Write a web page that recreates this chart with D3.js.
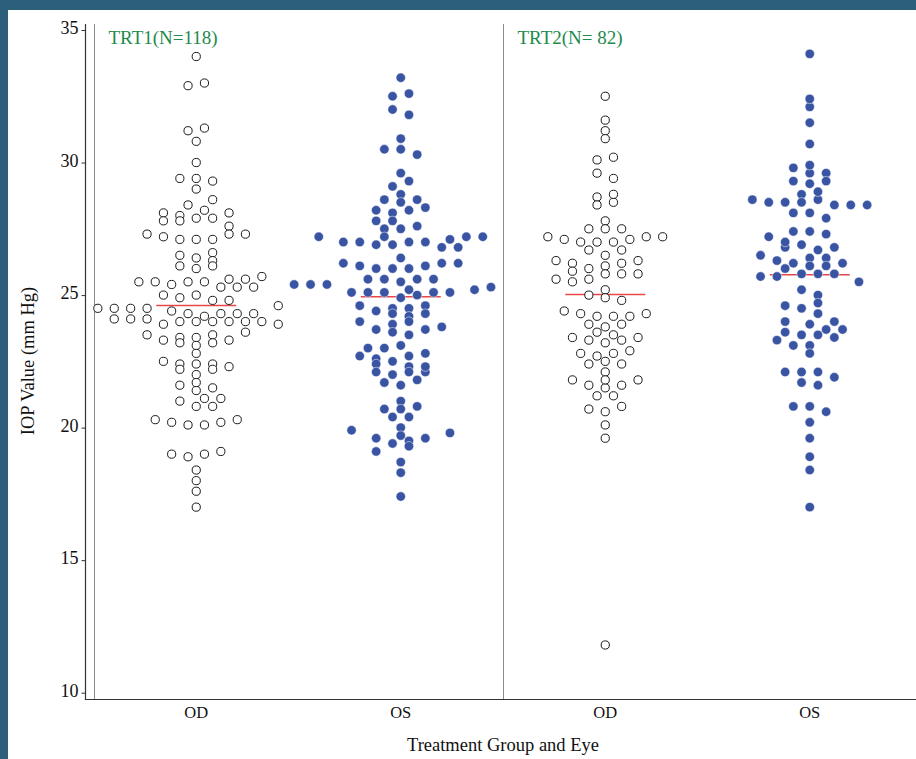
<!DOCTYPE html>
<html>
<head>
<meta charset="utf-8">
<script src="https://cdn.jsdelivr.net/npm/d3@7"></script>
<style>
  html, body { margin: 0; padding: 0; background: #fff; }
  svg { display: block; }
  text { font-family: "Liberation Serif", "Times New Roman", serif; }
</style>
</head>
<body>
<svg id="chart" width="916" height="759"></svg>
<script>
// ---- data: IOP (mm Hg) per treatment group and eye ----
const treatments = ["TRT1", "TRT2"];
const eyes = ["OD", "OS"];
const patientCounts = [118, 82];

const trt1OD = [
  34.0,
  32.9, 33.0,
  31.2, 31.3,
  30.8,
  30.0,
  29.4, 29.4, 29.3, 29.0,
  28.6, 28.4,
  28.1, 28.0, 27.9, 27.9, 28.1, 28.2,
  27.8, 27.8, 27.6,
  27.3, 27.2, 27.1, 27.1, 27.1, 27.3, 27.3,
  26.5, 26.4, 26.6, 26.3,
  26.1, 26.0, 26.1,
  25.6, 25.6, 25.7,
  25.5, 25.5, 25.4, 25.5, 25.5,
  25.3, 25.3, 25.3,
  25.0, 24.9, 25.0,
  24.8, 24.8,
  24.5, 24.5, 24.4, 24.5, 24.5, 24.6,
  24.3, 24.1, 24.1, 24.1, 24.2, 24.3, 24.3, 24.3,
  23.9, 24.0, 24.0, 24.0, 24.0, 24.0, 24.0, 23.9,
  23.5, 23.4, 23.4, 23.5, 23.6,
  23.3, 23.2, 23.1, 23.2, 23.3,
  22.8,
  22.5, 22.4, 22.4, 22.4,
  22.2, 22.0, 22.2, 22.3,
  21.6, 21.4, 21.5, 21.7,
  21.1, 21.0, 21.1,
  20.8, 20.8,
  20.3, 20.2, 20.1, 20.1, 20.2, 20.3,
  19.0, 18.9, 19.0, 19.1,
  18.4, 18.0, 17.6, 17.0
];

const trt1OS = [
  33.2,
  32.5, 32.6,
  32.0, 31.8,
  30.9,
  30.5, 30.5,
  30.3,
  29.6,
  29.1, 29.3,
  28.8,
  28.6, 28.5, 28.6,
  28.2, 28.1, 28.2, 28.3,
  27.8, 27.8,
  27.5, 27.5, 27.6,
  27.2, 27.2, 27.0, 27.0, 26.9, 26.9, 27.0, 27.0, 27.1, 27.2, 27.2,
  26.8, 26.8,
  26.4,
  26.2, 26.1, 26.0, 26.0, 26.0, 26.1, 26.2, 26.2,
  25.6, 25.6, 25.4, 25.4, 25.4, 25.5, 25.6, 25.6,
  25.2, 25.1, 25.1, 25.1, 24.9, 25.0, 25.1, 25.1, 25.2, 25.3,
  24.6, 24.5, 24.4, 24.5, 24.6,
  24.3, 24.2, 24.3,
  24.0, 23.9, 24.0,
  23.7, 23.6, 23.5, 23.7, 23.8,
  23.0, 23.0, 23.1,
  22.7, 22.6, 22.4, 22.5, 22.7, 22.8,
  22.3, 22.1, 22.0, 22.1, 22.1, 22.3,
  21.7, 21.6, 21.8,
  21.0,
  20.7, 20.7, 20.8,
  20.4, 20.4,
  19.9, 20.0,
  19.7, 19.6, 19.4, 19.5, 19.6, 19.8,
  19.1, 19.3,
  18.7, 18.3, 17.4
];

const trt2OD = [
  32.5, 31.6, 31.2, 30.9,
  30.1, 30.2,
  29.6, 29.4,
  28.7, 28.4, 28.5, 28.8,
  27.8,
  27.5, 27.5, 27.5,
  27.2, 27.1, 27.0, 27.0, 27.0, 27.1, 27.2, 27.2,
  26.7, 26.5, 26.7,
  26.3, 26.2, 25.9, 26.0, 26.1, 26.2, 26.3,
  25.8, 25.6, 25.5, 25.6, 25.8, 25.8,
  25.2,
  25.0, 24.9, 24.8,
  24.4,
  24.3, 24.2, 24.2, 24.2, 24.3,
  23.9, 23.8, 23.9,
  23.6, 23.5,
  23.4, 23.3, 23.2, 23.3, 23.4,
  22.8, 22.7, 22.8, 22.9,
  22.4, 22.5, 22.4,
  22.1,
  21.8, 21.6, 21.5, 21.6, 21.8, 21.8,
  21.2, 21.2,
  20.7, 20.6, 20.8,
  20.1, 19.6, 11.8
];

const trt2OS = [
  34.1,
  32.1, 32.4,
  31.5,
  30.7,
  29.8, 29.6, 29.6, 29.9,
  29.3, 29.2, 29.3,
  28.8, 28.6, 28.5, 28.5, 28.5, 28.6, 28.9,
  28.4, 28.4, 28.4,
  28.1, 28.1, 27.9,
  27.2, 27.4, 27.4, 27.3,
  26.8, 26.9, 27.0, 26.7, 26.8,
  26.5, 26.4, 26.4, 26.3,
  26.2, 26.1, 26.0, 26.1, 26.2,
  25.8, 25.7, 25.7, 25.8, 25.8,
  25.5, 25.2, 25.0,
  24.6, 24.5, 24.7,
  24.3,
  24.0, 24.0,
  23.9,
  23.7, 23.6, 23.5, 23.5, 23.7,
  23.3, 23.4,
  23.1, 23.1,
  22.8,
  22.1, 22.1, 22.1,
  21.9,
  21.7, 21.6,
  20.8, 20.8,
  20.6, 20.2, 19.6, 18.9, 18.4, 17.0
];

const yTicks = [10, 15, 20, 25, 30, 35];

// ---- build the four groups ----
const seriesByGroup = [[trt1OD, trt1OS], [trt2OD, trt2OS]];
const groups = [];
treatments.forEach((trt, t) => {
  eyes.forEach((eye, e) => {
    groups.push({ key: trt + " " + eye, trt, eye, values: seriesByGroup[t][e] });
  });
});

// ---- geometry ----
const W = 916, H = 759;
const plotTop = 24, plotBottom = 699.5, axisX = 85.5;
const svg = d3.select("#chart");

const y = d3.scaleLinear().domain([10, 35]).range([692.7, 30]);
const x = d3.scaleBand().domain(groups.map(g => g.key)).range([94, 912]).padding(0);
const step = 16.4;          // horizontal spacing between neighbouring markers (px)

// Beeswarm layout: values are grouped into rows of nearly equal value.
// Rows are laid out largest first, each centred on the category; slots
// that would collide with markers lying close to the row's mean value
// are skipped.
function beeswarm(values, rowSpan, clearance) {
  const n = values.length;
  const order = d3.range(n).sort((a, b) => values[a] - values[b] || a - b);
  const rows = [];
  order.forEach(i => {
    const last = rows[rows.length - 1];
    if (last && values[i] - values[last[0]] < rowSpan - 1e-9) last.push(i);
    else rows.push([i]);
  });
  const rowOrder = d3.range(rows.length).sort((a, b) => rows[b].length - rows[a].length || a - b);
  const placed = [];
  const slot = new Array(n);
  rowOrder.forEach(r => {
    const row = rows[r].slice().sort((a, b) => a - b);
    const mid = d3.mean(row, i => values[i]);
    const base = row.length % 2 ? 0 : 0.5;
    const free = [];
    for (let m = 0; free.length < row.length && m < 60; m++) {
      const c0 = m + base;
      const cands = c0 === 0 ? [0] : [-c0, c0];
      for (const c of cands) {
        if (free.length >= row.length) break;
        const blocked = placed.some(p => Math.abs(p.slot - c) < 0.999 &&
          Math.abs(p.v - mid) < clearance - 1e-9);
        if (!blocked) free.push(c);
      }
    }
    free.sort((a, b) => a - b);
    row.forEach((i, k) => { slot[i] = free[k]; });
    row.forEach(i => placed.push({ slot: slot[i], v: values[i] }));
  });
  return slot;
}

// ---- frame ----
svg.append("rect").attr("x", 0).attr("y", 0).attr("width", W).attr("height", H).attr("fill", "#2c5f7a");
svg.append("rect").attr("x", 8).attr("y", 10).attr("width", W - 8).attr("height", H - 10).attr("fill", "#ffffff");

// ---- panel separators ----
treatments.forEach(trt => {
  const x0 = x(trt + " OD");
  svg.append("line")
    .attr("x1", x0 + 0.5).attr("x2", x0 + 0.5)
    .attr("y1", plotTop).attr("y2", plotBottom)
    .attr("stroke", "#8c8c8c").attr("stroke-width", 1);
});

// ---- y axis ----
const yAxis = svg.append("g")
  .attr("transform", `translate(${axisX},0)`)
  .call(d3.axisLeft(y).tickValues(yTicks).tickSize(4).tickPadding(3).tickFormat(d3.format("d")));
yAxis.select(".domain").remove();
yAxis.selectAll(".tick line").attr("stroke", "#333");
yAxis.selectAll(".tick text")
  .attr("font-family", "Liberation Serif, serif")
  .attr("font-size", 18).attr("fill", "#111").attr("dy", "0.2em");
svg.append("line")
  .attr("x1", axisX).attr("x2", axisX).attr("y1", plotTop).attr("y2", plotBottom)
  .attr("stroke", "#333").attr("stroke-width", 1.2);

// ---- x axis ----
const xAxis = svg.append("g")
  .attr("transform", `translate(0,${plotBottom})`)
  .call(d3.axisBottom(x).tickSize(0).tickPadding(6.5).tickFormat(k => k.split(" ")[1]));
xAxis.select(".domain").remove();
xAxis.selectAll(".tick text")
  .attr("font-family", "Liberation Serif, serif")
  .attr("font-size", 16.5).attr("fill", "#111");
svg.append("line")
  .attr("x1", axisX - 0.6).attr("x2", W).attr("y1", plotBottom).attr("y2", plotBottom)
  .attr("stroke", "#333").attr("stroke-width", 1.2);

// ---- axis titles ----
svg.append("text")
  .attr("x", 503).attr("y", 751)
  .attr("text-anchor", "middle")
  .attr("font-size", 18.5).attr("fill", "#111")
  .text("Treatment Group and Eye");
svg.append("text")
  .attr("transform", "translate(34,361) rotate(-90)")
  .attr("text-anchor", "middle")
  .attr("font-size", 18.5).attr("fill", "#111")
  .text("IOP Value (mm Hg)");

// ---- panel labels ----
treatments.forEach((trt, t) => {
  const n = patientCounts[t];
  const label = trt + "(N=" + (n < 100 ? " " : "") + n + ")";
  svg.append("text")
    .attr("x", x(trt + " OD") + 14.5).attr("y", 44)
    .attr("font-size", 19).attr("fill", "#1e8a4c")
    .style("white-space", "pre")
    .text(label);
});

// ---- group means ----
groups.forEach(g => {
  const cx = x(g.key) + x.bandwidth() / 2;
  const m = d3.mean(g.values);
  svg.append("line")
    .attr("x1", cx - 40).attr("x2", cx + 40)
    .attr("y1", y(m)).attr("y2", y(m))
    .attr("stroke", "#e8474a").attr("stroke-width", 1.5);
});

// ---- markers ----
groups.forEach(g => {
  const cx = x(g.key) + x.bandwidth() / 2;
  const slots = beeswarm(g.values, 0.25, 0.25);
  const pts = g.values.map((v, i) => ({ v, dx: slots[i] * step }));
  const sel = svg.append("g").selectAll("circle").data(pts).join("circle")
    .attr("cx", d => cx + d.dx)
    .attr("cy", d => y(d.v));
  if (g.eye === "OD") {
    sel.attr("r", 4.1).attr("fill", "#fff").attr("stroke", "#1a1a1a").attr("stroke-width", 1);
  } else {
    sel.attr("r", 4.7).attr("fill", "#3a54a4").attr("stroke", "#ffffff").attr("stroke-width", 0.5);
  }
});
</script>
</body>
</html>
